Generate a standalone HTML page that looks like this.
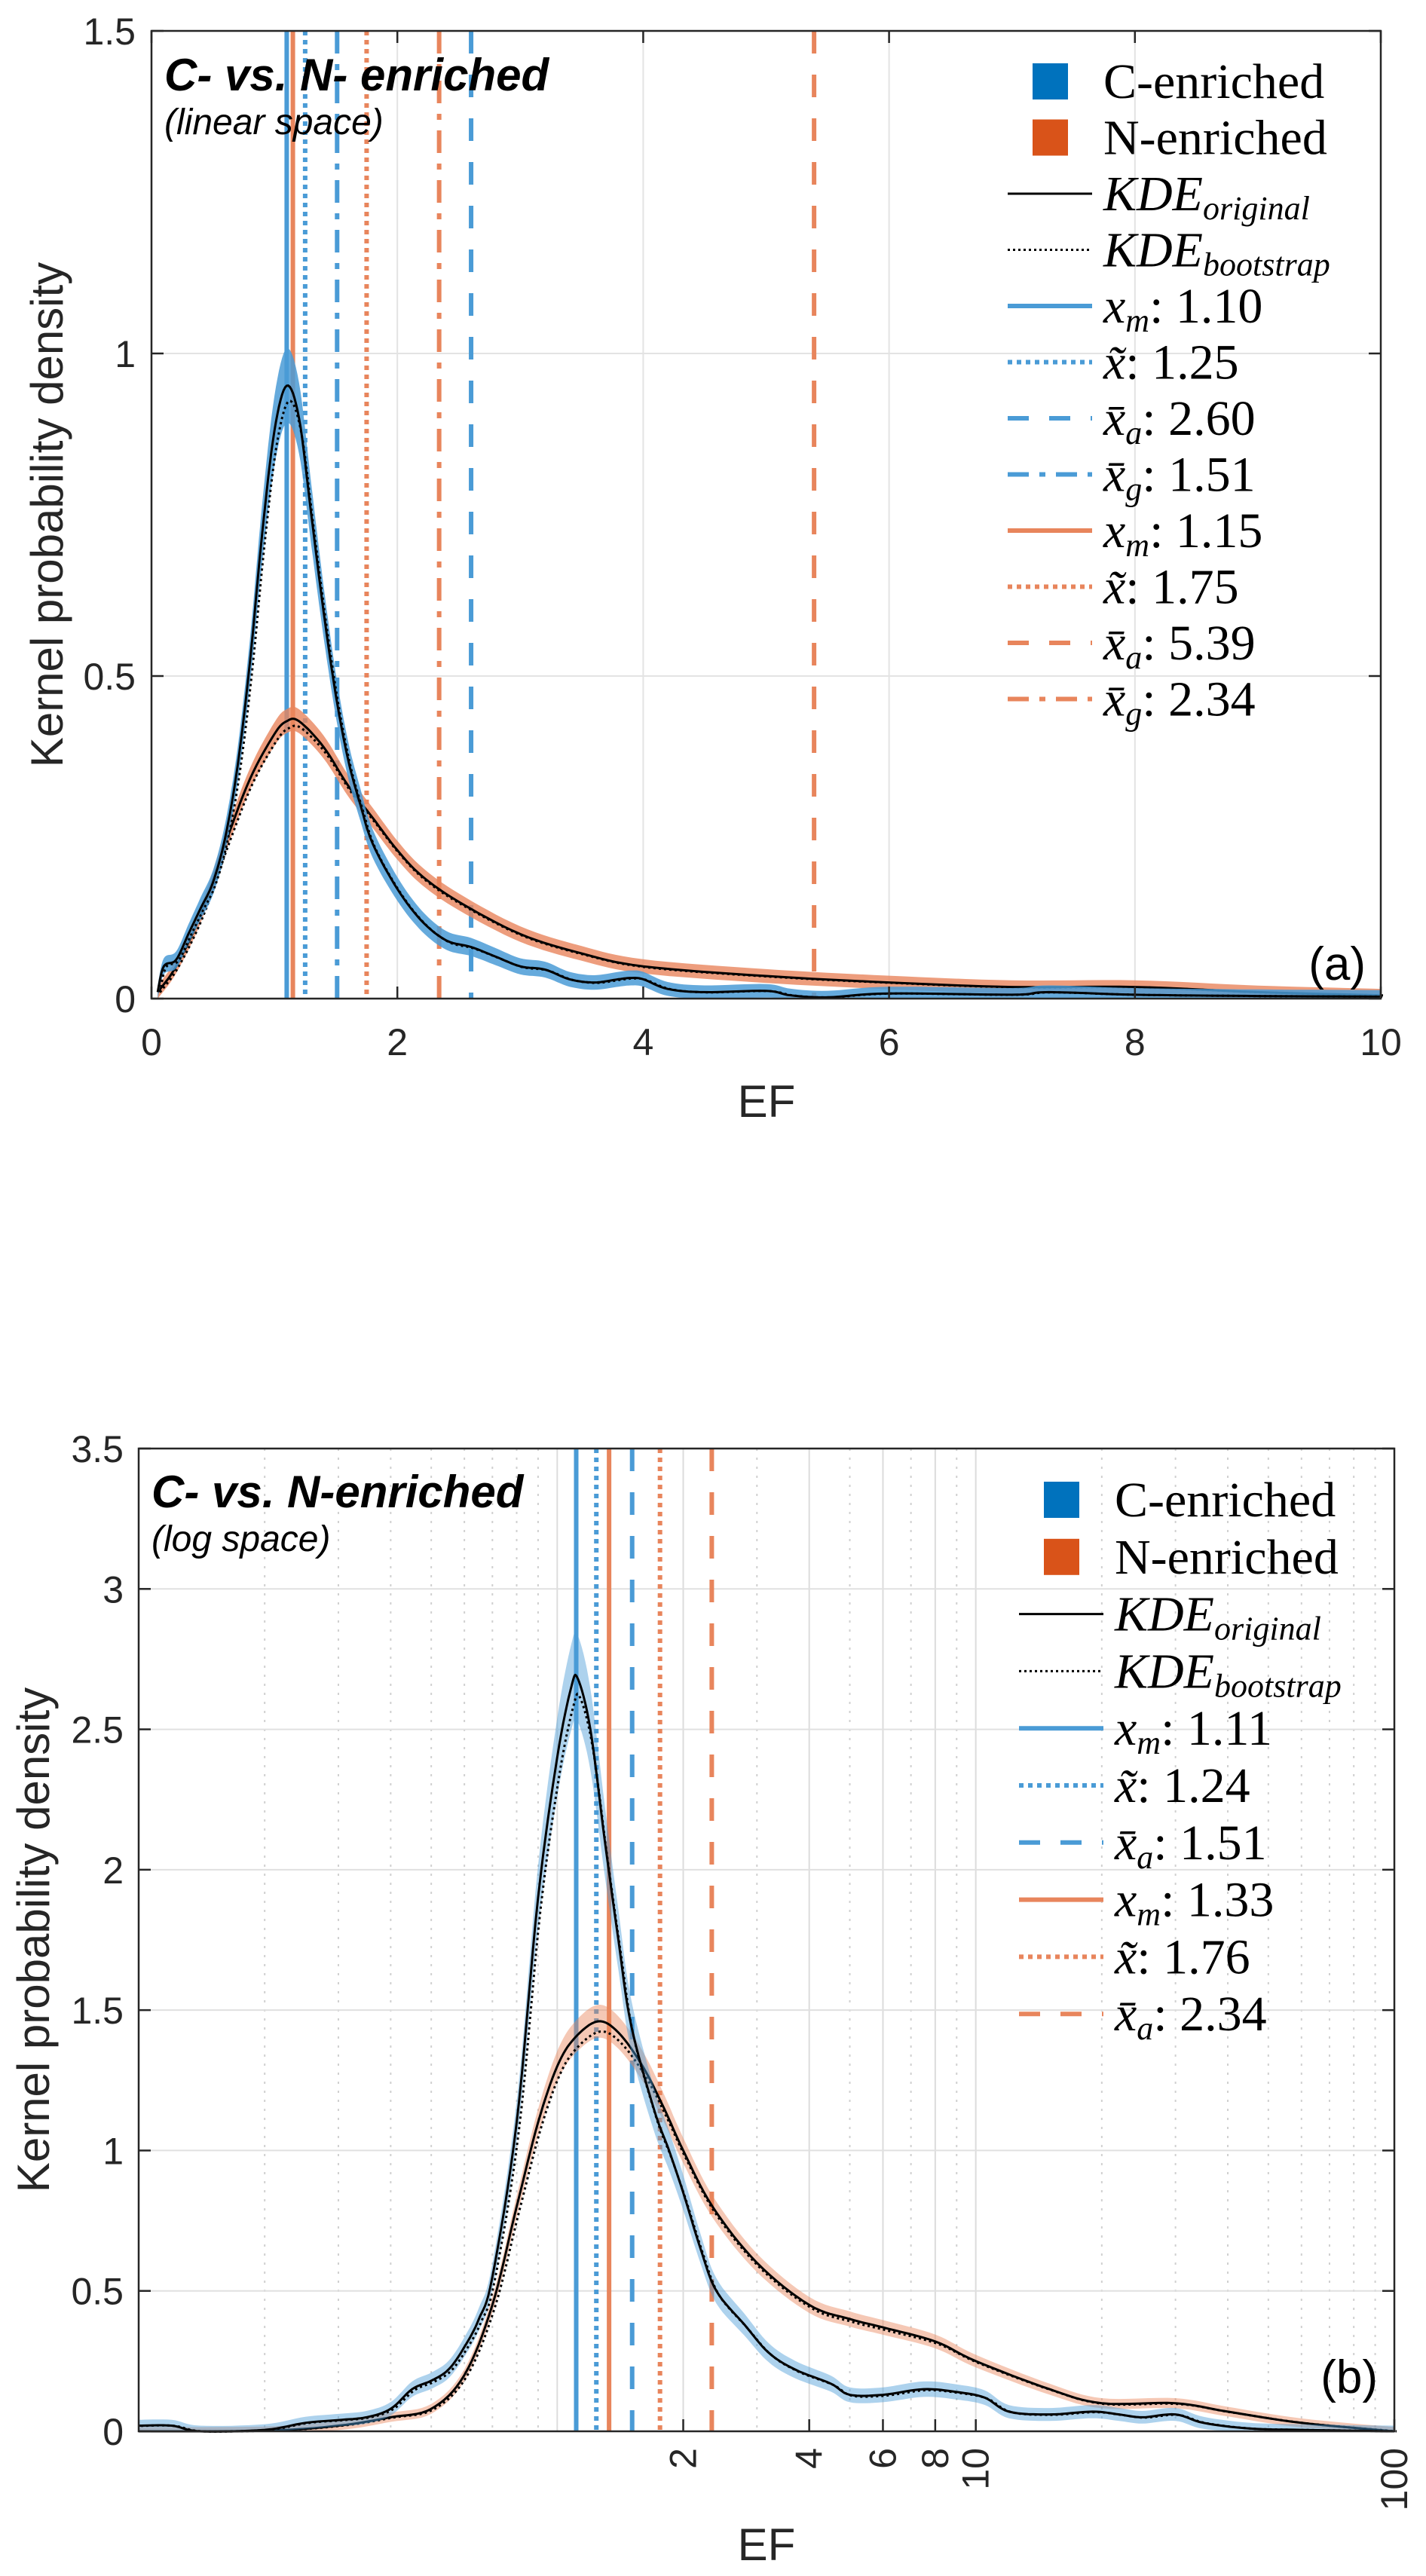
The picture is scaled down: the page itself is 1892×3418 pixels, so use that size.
<!DOCTYPE html>
<html><head><meta charset="utf-8"><style>
html,body{margin:0;padding:0;background:#fff;}
svg{display:block;}
.tick{font-family:"Liberation Sans",sans-serif;font-size:50px;fill:#262626;}
.ttl{font-family:"Liberation Sans",sans-serif;font-size:60px;fill:#262626;}
.leg{font-family:"Liberation Serif",serif;font-size:66px;fill:#000;}
</style></head><body>
<svg id="fig" width="1892" height="3418" viewBox="0 0 1892 3418" xmlns="http://www.w3.org/2000/svg"></svg>
<script>
// ---------- data: panel (a), linear space ----------
const aCx = [0.05,0.1,0.2,0.3,0.4,0.5,0.6,0.7,0.8,0.9,1.0,1.1,1.2,1.3,1.4,1.5,1.6,1.7,1.8,2.0,2.2,2.4,2.6,2.8,3.0,3.2,3.4,3.6,3.8,3.9,4.0,4.2,4.5,5.0,5.2,5.5,6.0,7.0,7.3,8.0,9.0,10.0];
const aCy = [0.01,0.05,0.06,0.10,0.14,0.18,0.25,0.36,0.52,0.72,0.88,0.95,0.90,0.75,0.60,0.47,0.37,0.30,0.24,0.17,0.12,0.09,0.08,0.065,0.05,0.045,0.03,0.025,0.03,0.032,0.03,0.015,0.01,0.012,0.005,0.002,0.008,0.006,0.01,0.006,0.004,0.003];
const aNx = [0.05,0.2,0.4,0.6,0.8,1.0,1.1,1.2,1.4,1.6,1.8,2.0,2.2,2.5,3.0,3.5,4.0,5.0,6.0,7.0,8.0,9.0,10.0];
const aNy = [0.01,0.05,0.13,0.24,0.34,0.41,0.43,0.43,0.39,0.33,0.28,0.23,0.19,0.15,0.10,0.07,0.05,0.035,0.025,0.018,0.018,0.01,0.005];
const aStatVals = [1.10,1.25,2.60,1.51,1.15,1.75,5.39,2.34];
const aXTicks = [0,2,4,6,8,10];
const aYTicks = [0,0.5,1,1.5];
// ---------- data: panel (b), log space ----------
const bCx = [0.1,0.12,0.14,0.2,0.25,0.3,0.35,0.4,0.45,0.5,0.55,0.6,0.65,0.7,0.8,0.9,1.0,1.08,1.12,1.2,1.3,1.4,1.5,1.7,1.85,2.0,2.2,2.4,2.8,3.2,3.7,4.5,5,6,7.5,9,10.5,12,15,19,22,25,30,35,45,60,100];
const bCy = [0.02,0.02,0.0,0.005,0.03,0.04,0.05,0.08,0.15,0.18,0.22,0.30,0.40,0.55,1.1,1.9,2.4,2.65,2.68,2.5,2.1,1.75,1.45,1.15,1.0,0.85,0.65,0.5,0.38,0.28,0.22,0.17,0.13,0.13,0.15,0.14,0.12,0.07,0.06,0.07,0.06,0.05,0.06,0.03,0.01,0.005,0.0];
const bNx = [0.1,0.2,0.3,0.4,0.5,0.6,0.7,0.8,0.9,1.0,1.1,1.25,1.4,1.6,1.8,2.0,2.35,3,4,5,6,8,10,15,20,30,40,60,100];
const bNy = [0.0,0.002,0.02,0.05,0.08,0.2,0.45,0.8,1.1,1.3,1.4,1.46,1.42,1.3,1.15,1.0,0.8,0.6,0.45,0.4,0.37,0.32,0.25,0.15,0.1,0.1,0.07,0.03,0.0];
const bStatVals = [1.11,1.24,1.51,1.33,1.76,2.34];
const bXTicks = [2,4,6,8,10,100];
const bYTicks = [0,0.5,1,1.5,2,2.5,3,3.5];

const NS="http://www.w3.org/2000/svg";
const svg=document.getElementById('fig');
const BLUE="#4A9BD6", ORANGE="#E8855C";
function el(tag,attrs,parent){const e=document.createElementNS(NS,tag);for(const k in attrs)e.setAttribute(k,attrs[k]);(parent||svg).appendChild(e);return e;}
function txt(s,attrs,parent){const e=el('text',attrs,parent);e.textContent=s;return e;}
function cr(pts){
  const out=[];
  for(let i=0;i<pts.length-1;i++){
    const p0=pts[Math.max(0,i-1)],p1=pts[i],p2=pts[i+1],p3=pts[Math.min(pts.length-1,i+2)];
    for(let t=0;t<1;t+=0.125){
      const t2=t*t,t3=t2*t;
      const f=(a,b,c,d)=>0.5*((2*b)+(-a+c)*t+(2*a-5*b+4*c-d)*t2+(-a+3*b-3*c+d)*t3);
      out.push([f(p0[0],p1[0],p2[0],p3[0]),f(p0[1],p1[1],p2[1],p3[1])]);
    }
  }
  out.push(pts[pts.length-1]);return out;
}
function poly(p){return p.map(q=>q[0].toFixed(1)+','+q[1].toFixed(1)).join(' ');}

function drawSeries(g,xs,ys,X,Y,color,hw,name,op){
  const up=xs.map((x,i)=>[X(x),Y(ys[i]+hw(ys[i]))]);
  const lo=xs.map((x,i)=>[X(x),Y(Math.max(0,ys[i]-hw(ys[i])))]);
  const band=el('polygon',{points:poly(cr(up).concat(cr(lo).reverse())),fill:color,'fill-opacity':op,stroke:'none'},g);
  
  
  const pts=cr(xs.map((x,i)=>[X(x),Y(ys[i])]));
  const l1=el('polyline',{points:poly(pts),fill:'none',stroke:'#000','stroke-width':3},g);
  
  
  const pts2=cr(xs.map((x,i)=>[X(x)+3,Y(ys[i]*0.975)]));
  const l2=el('polyline',{points:poly(pts2),fill:'none',stroke:'#000','stroke-width':3,'stroke-dasharray':'3 4'},g);
  
  
}
const dashes={solid:'none',dot:'6 6',dash:'30 28',dashdot:'30 14 8 14'};
function statLine(g,X,v,top,bot,color,style,name){
  const l=el('line',{x1:X(v),x2:X(v),y1:top,y2:bot,stroke:color,'stroke-width':6,'stroke-dasharray':dashes[style]},g);
  
  
}
function legendText(g,x,y,base,sub,val,italicBase){
  const t=el('text',{x:x,y:y,class:'leg'},g);
  const b=el('tspan',{'font-style':italicBase?'italic':'normal'},t);b.textContent=base;
  if(sub){const s=el('tspan',{'font-style':'italic','font-size':'44px',dy:12},t);s.textContent=sub;
    if(val){const v=el('tspan',{dy:-12},t);v.textContent=val;}}
  else if(val){const v=el('tspan',{},t);v.textContent=val;}
  return t;
}
function legend(g,x0,y0,step,rows){
  rows.forEach((r,i)=>{
    const cy=y0+step*i;
    const rg=el('g',{},g);
    
    
    if(r.type==='sq'){el('rect',{x:x0+33,y:cy-24,width:47,height:48,fill:r.color},rg);}
    else{el('line',{x1:x0,x2:x0+112,y1:cy,y2:cy,stroke:r.color,'stroke-width':r.w,'stroke-dasharray':r.dash},rg);}
    legendText(rg,x0+127,cy+22,r.base,r.sub,r.val,r.it);
  });
}

// ================= PANEL A =================
(function(){
  const L=201,R=1832,T=41,B=1325;
  const X=v=>L+(v-0)/(10-0)*(R-L), Y=v=>B-(v/1.5)*(B-T);
  const g=el('g',{});
  
  
  aXTicks.forEach(t=>{if(t>0&&t<10){const gl=el('line',{x1:X(t),x2:X(t),y1:T,y2:B,stroke:'#e3e3e3','stroke-width':2},g);
    
    }});
  aYTicks.forEach(t=>{if(t>0&&t<1.5){const gl=el('line',{x1:L,x2:R,y1:Y(t),y2:Y(t),stroke:'#e3e3e3','stroke-width':2},g);
    
    }});
  const styles=['solid','dot','dash','dashdot'];
  aStatVals.forEach((v,i)=>statLine(g,X,v,T,B,i<4?BLUE:ORANGE,styles[i%4],'stat-line-'+(i<4?'c':'n')+'-'+styles[i%4]));
  drawSeries(g,aNx,aNy,X,Y,ORANGE,y=>0.01+0.02*y,'n-enriched',0.8);
  drawSeries(g,aCx,aCy,X,Y,BLUE,y=>0.01+0.05*y,'c-enriched',0.85);
  const ax=el('rect',{x:L,y:T,width:R-L,height:B-T,fill:'none',stroke:'#262626','stroke-width':2.5},g);
  
  
  aXTicks.forEach(t=>{el('line',{x1:X(t),x2:X(t),y1:B,y2:B-16,stroke:'#262626','stroke-width':2.5},g);el('line',{x1:X(t),x2:X(t),y1:T,y2:T+16,stroke:'#262626','stroke-width':2.5},g);
    const tl=txt(String(t),{x:X(t),y:1400,class:'tick','text-anchor':'middle'},g);
    
    });
  aYTicks.forEach(t=>{el('line',{x1:L,x2:L+16,y1:Y(t),y2:Y(t),stroke:'#262626','stroke-width':2.5},g);el('line',{x1:R,x2:R-16,y1:Y(t),y2:Y(t),stroke:'#262626','stroke-width':2.5},g);
    const tl=txt(String(t),{x:180,y:Y(t)+18,class:'tick','text-anchor':'end'},g);
    
    });
  const xt=txt('EF',{x:1017,y:1482,class:'ttl','text-anchor':'middle'},g);
  
  
  const yt=txt('Kernel probability density',{x:0,y:0,class:'ttl','text-anchor':'middle',transform:'translate(83,'+((T+B)/2)+') rotate(-90)'},g);
  
  
  const t1=txt('C- vs. N- enriched',{x:218,y:120,'font-family':'Liberation Sans, sans-serif','font-size':'60px','font-weight':'bold','font-style':'italic',fill:'#000'},g);
  
  
  const t2=txt('(linear space)',{x:218,y:178,'font-family':'Liberation Sans, sans-serif','font-size':'48px','font-style':'italic',fill:'#000'},g);
  
  
  const pl=txt('(a)',{x:1812,y:1300,'font-family':'Liberation Sans, sans-serif','font-size':'62px','text-anchor':'end',fill:'#000'},g);
  
  
  const lg=el('g',{},g);
  
  
  legend(lg,1337,108,74.5,[
    {type:'sq',color:'#0072BD',base:'C-enriched'},
    {type:'sq',color:'#D95319',base:'N-enriched'},
    {color:'#000',w:3,dash:'none',base:'KDE',sub:'original',it:true},
    {color:'#000',w:3,dash:'3 4',base:'KDE',sub:'bootstrap',it:true},
    {color:BLUE,w:6,dash:'none',base:'x',sub:'m',val:':  1.10',it:true},
    {color:BLUE,w:6,dash:'6 6',base:'x̃',val:':  1.25',it:true},
    {color:BLUE,w:6,dash:'28 27',base:'x̄',sub:'a',val:':  2.60',it:true},
    {color:BLUE,w:6,dash:'28 14 8 14',base:'x̄',sub:'g',val:':  1.51',it:true},
    {color:ORANGE,w:6,dash:'none',base:'x',sub:'m',val:':  1.15',it:true},
    {color:ORANGE,w:6,dash:'6 6',base:'x̃',val:':  1.75',it:true},
    {color:ORANGE,w:6,dash:'28 27',base:'x̄',sub:'a',val:':  5.39',it:true},
    {color:ORANGE,w:6,dash:'28 14 8 14',base:'x̄',sub:'g',val:':  2.34',it:true}]);
})();

// ================= PANEL B =================
(function(){
  const L=184,R=1850,T=1922,B=3226;
  const X=v=>R-(2-Math.log10(v))*(R-L)/3, Y=v=>B-(v/3.5)*(B-T);
  const g=el('g',{});
  
  
  for(let d=0.1;d<100;d*=10){for(let k=2;k<=9;k++){const v=d*k;const major=bXTicks.includes(Math.round(v*10)/10);
    const gl=el('line',{x1:X(v),x2:X(v),y1:T,y2:B,stroke:major?'#dcdcdc':'#d0d0d0','stroke-width':2,'stroke-dasharray':major?'none':'3 9'},g);
    
    }}
  [1,10].forEach(v=>{const gl=el('line',{x1:X(v),x2:X(v),y1:T,y2:B,stroke:'#dcdcdc','stroke-width':2},g);
    
    });
  bYTicks.forEach(t=>{if(t>0&&t<3.5){const gl=el('line',{x1:L,x2:R,y1:Y(t),y2:Y(t),stroke:'#e0e0e0','stroke-width':2},g);
    
    }});
  const styles=['solid','dot','dash'];
  bStatVals.forEach((v,i)=>statLine(g,X,v,T,B,i<3?BLUE:ORANGE,styles[i%3],'stat-line-'+(i<3?'c':'n')+'-'+styles[i%3]));
  drawSeries(g,bNx,bNy,X,Y,ORANGE,y=>0.015+0.03*y,'n-enriched',0.45);
  drawSeries(g,bCx,bCy,X,Y,BLUE,y=>0.02+0.05*y,'c-enriched',0.45);
  const ax=el('rect',{x:L,y:T,width:R-L,height:B-T,fill:'none',stroke:'#262626','stroke-width':2.5},g);
  
  
  bXTicks.forEach(t=>{el('line',{x1:X(t),x2:X(t),y1:B,y2:B-16,stroke:'#262626','stroke-width':2.5},g);
    const tl=txt(String(t),{x:0,y:0,class:'tick','font-size':'48px','text-anchor':'end',transform:'translate('+(X(t)+17)+',3248) rotate(-90)'},g);
    
    });
  bYTicks.forEach(t=>{el('line',{x1:L,x2:L+16,y1:Y(t),y2:Y(t),stroke:'#262626','stroke-width':2.5},g);el('line',{x1:R,x2:R-16,y1:Y(t),y2:Y(t),stroke:'#262626','stroke-width':2.5},g);
    const tl=txt(String(t),{x:164,y:Y(t)+18,class:'tick','text-anchor':'end'},g);
    
    });
  const xt=txt('EF',{x:1017,y:3397,class:'ttl','text-anchor':'middle'},g);
  
  
  const yt=txt('Kernel probability density',{x:0,y:0,class:'ttl','text-anchor':'middle',transform:'translate(65,'+((T+B)/2)+') rotate(-90)'},g);
  
  
  const t1=txt('C- vs. N-enriched',{x:201,y:2000,'font-family':'Liberation Sans, sans-serif','font-size':'60px','font-weight':'bold','font-style':'italic',fill:'#000'},g);
  
  
  const t2=txt('(log space)',{x:201,y:2058,'font-family':'Liberation Sans, sans-serif','font-size':'48px','font-style':'italic',fill:'#000'},g);
  
  
  const pl=txt('(b)',{x:1828,y:3175,'font-family':'Liberation Sans, sans-serif','font-size':'62px','text-anchor':'end',fill:'#000'},g);
  
  
  const lg=el('g',{},g);
  
  
  legend(lg,1352,1990,75.8,[
    {type:'sq',color:'#0072BD',base:'C-enriched'},
    {type:'sq',color:'#D95319',base:'N-enriched'},
    {color:'#000',w:3,dash:'none',base:'KDE',sub:'original',it:true},
    {color:'#000',w:3,dash:'3 4',base:'KDE',sub:'bootstrap',it:true},
    {color:BLUE,w:6,dash:'none',base:'x',sub:'m',val:':  1.11',it:true},
    {color:BLUE,w:6,dash:'6 6',base:'x̃',val:':  1.24',it:true},
    {color:BLUE,w:6,dash:'28 27',base:'x̄',sub:'a',val:':  1.51',it:true},
    {color:ORANGE,w:6,dash:'none',base:'x',sub:'m',val:':  1.33',it:true},
    {color:ORANGE,w:6,dash:'6 6',base:'x̃',val:':  1.76',it:true},
    {color:ORANGE,w:6,dash:'28 27',base:'x̄',sub:'a',val:':  2.34',it:true}]);
})();
</script>
</body></html>
